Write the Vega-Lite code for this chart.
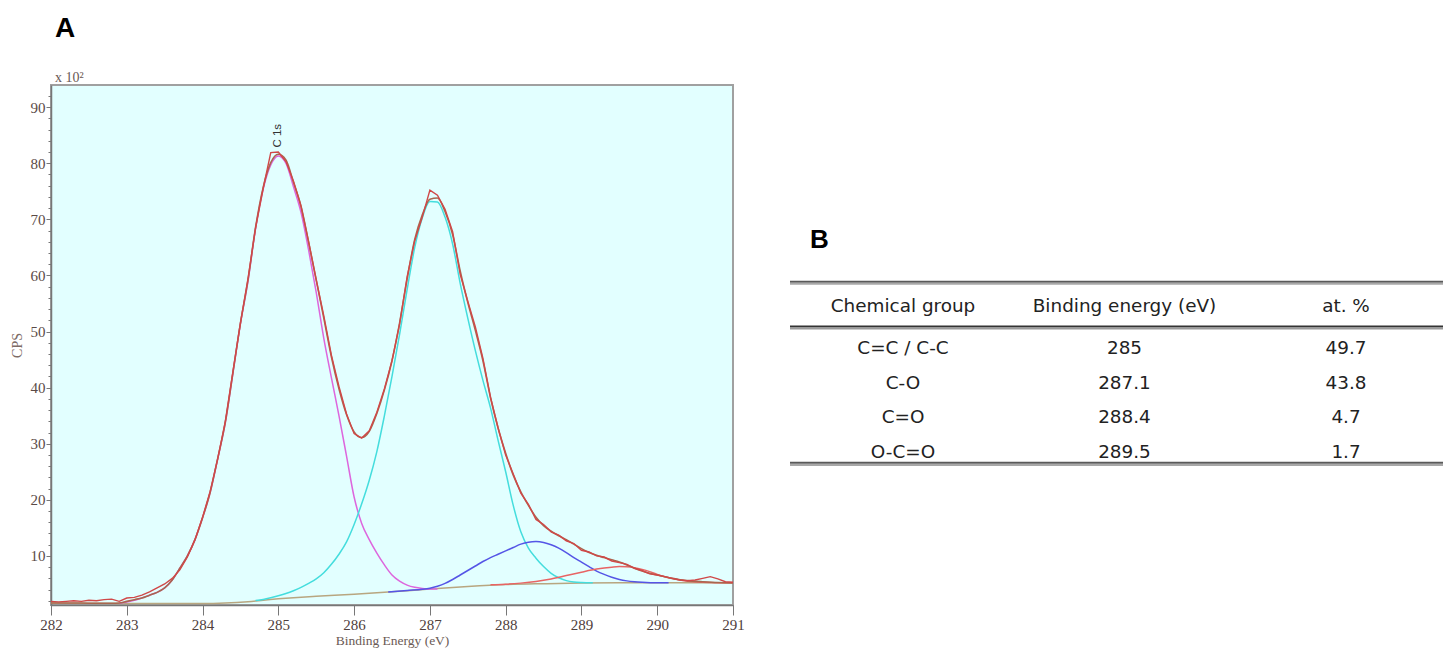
{
  "$schema": "https://vega.github.io/schema/vega-lite/v6.json",
  "padding": {"left": 9, "top": 14, "right": 0, "bottom": 0},
  "background": "white",
  "spacing": 57,
  "bounds": "flush",
  "datasets": {
    "spec": [
      {"s":"raw","E":282.0,"v":1.9},{"s":"raw","E":282.1,"v":1.8},{"s":"raw","E":282.2,"v":1.9},{"s":"raw","E":282.3,"v":2.0},{"s":"raw","E":282.4,"v":1.9},{"s":"raw","E":282.5,"v":2.1},{"s":"raw","E":282.6,"v":2.0},{"s":"raw","E":282.7,"v":2.2},{"s":"raw","E":282.8,"v":2.3},{"s":"raw","E":282.9,"v":1.9},
      {"s":"raw","E":283.0,"v":2.5},{"s":"raw","E":283.1,"v":2.6},{"s":"raw","E":283.2,"v":3.0},{"s":"raw","E":283.3,"v":3.6},{"s":"raw","E":283.4,"v":4.3},{"s":"raw","E":283.5,"v":5.0},{"s":"raw","E":283.6,"v":6.0},{"s":"raw","E":283.7,"v":7.5},{"s":"raw","E":283.8,"v":9.8},{"s":"raw","E":283.9,"v":12.9},
      {"s":"raw","E":284.0,"v":16.9},{"s":"raw","E":284.1,"v":21.5},{"s":"raw","E":284.2,"v":27.3},{"s":"raw","E":284.3,"v":34.0},{"s":"raw","E":284.4,"v":42.8},{"s":"raw","E":284.5,"v":51.5},{"s":"raw","E":284.6,"v":59.5},{"s":"raw","E":284.7,"v":68.5},{"s":"raw","E":284.8,"v":75.5},{"s":"raw","E":284.9,"v":81.9},
      {"s":"raw","E":285.0,"v":82.0},{"s":"raw","E":285.1,"v":80.3},{"s":"raw","E":285.2,"v":76.8},{"s":"raw","E":285.3,"v":72.3},{"s":"raw","E":285.4,"v":66.0},{"s":"raw","E":285.5,"v":59.2},{"s":"raw","E":285.6,"v":52.8},{"s":"raw","E":285.7,"v":45.8},{"s":"raw","E":285.8,"v":40.2},{"s":"raw","E":285.9,"v":35.3},
      {"s":"raw","E":286.0,"v":31.8},{"s":"raw","E":286.1,"v":31.0},{"s":"raw","E":286.2,"v":32.3},{"s":"raw","E":286.3,"v":35.6},{"s":"raw","E":286.4,"v":39.8},{"s":"raw","E":286.5,"v":44.8},{"s":"raw","E":286.6,"v":51.3},{"s":"raw","E":286.7,"v":59.8},{"s":"raw","E":286.8,"v":66.2},{"s":"raw","E":286.9,"v":70.4},
      {"s":"raw","E":287.0,"v":75.2},{"s":"raw","E":287.1,"v":74.3},{"s":"raw","E":287.2,"v":71.8},{"s":"raw","E":287.3,"v":67.8},{"s":"raw","E":287.4,"v":60.2},{"s":"raw","E":287.5,"v":55.4},{"s":"raw","E":287.6,"v":50.8},{"s":"raw","E":287.7,"v":45.2},{"s":"raw","E":287.8,"v":38.3},{"s":"raw","E":287.9,"v":32.8},
      {"s":"raw","E":288.0,"v":28.0},{"s":"raw","E":288.1,"v":24.6},{"s":"raw","E":288.2,"v":21.2},{"s":"raw","E":288.3,"v":19.2},{"s":"raw","E":288.4,"v":16.5},{"s":"raw","E":288.5,"v":15.6},{"s":"raw","E":288.6,"v":14.3},{"s":"raw","E":288.7,"v":13.7},{"s":"raw","E":288.8,"v":12.7},{"s":"raw","E":288.9,"v":12.2},
      {"s":"raw","E":289.0,"v":11.0},{"s":"raw","E":289.1,"v":10.7},{"s":"raw","E":289.2,"v":10.0},{"s":"raw","E":289.3,"v":9.8},{"s":"raw","E":289.4,"v":9.1},{"s":"raw","E":289.5,"v":8.8},{"s":"raw","E":289.6,"v":8.5},{"s":"raw","E":289.7,"v":7.8},{"s":"raw","E":289.8,"v":7.4},{"s":"raw","E":289.9,"v":6.8},
      {"s":"raw","E":290.0,"v":6.6},{"s":"raw","E":290.1,"v":6.3},{"s":"raw","E":290.2,"v":6.0},{"s":"raw","E":290.3,"v":5.7},{"s":"raw","E":290.4,"v":5.6},{"s":"raw","E":290.5,"v":5.7},{"s":"raw","E":290.6,"v":6.0},{"s":"raw","E":290.7,"v":6.3},{"s":"raw","E":290.8,"v":5.9},{"s":"raw","E":290.9,"v":5.4},{"s":"raw","E":291.0,"v":5.3},

      {"s":"env","E":282.0,"v":1.6},{"s":"env","E":282.2,"v":1.6},{"s":"env","E":282.4,"v":1.6},{"s":"env","E":282.6,"v":1.55},{"s":"env","E":282.8,"v":1.55},{"s":"env","E":282.9,"v":1.6},
      {"s":"env","E":283.0,"v":1.9},{"s":"env","E":283.1,"v":2.2},{"s":"env","E":283.2,"v":2.5},{"s":"env","E":283.3,"v":3.0},{"s":"env","E":283.4,"v":3.5},{"s":"env","E":283.5,"v":4.3},{"s":"env","E":283.6,"v":5.7},{"s":"env","E":283.7,"v":7.8},{"s":"env","E":283.8,"v":10.0},{"s":"env","E":283.9,"v":12.9},
      {"s":"env","E":284.0,"v":16.8},{"s":"env","E":284.1,"v":21.3},{"s":"env","E":284.2,"v":27.4},{"s":"env","E":284.3,"v":33.8},{"s":"env","E":284.4,"v":42.6},{"s":"env","E":284.5,"v":51.5},{"s":"env","E":284.6,"v":59.2},{"s":"env","E":284.7,"v":68.6},{"s":"env","E":284.8,"v":75.7},{"s":"env","E":284.9,"v":80.1},
      {"s":"env","E":285.0,"v":81.6},{"s":"env","E":285.1,"v":80.6},{"s":"env","E":285.2,"v":76.6},{"s":"env","E":285.3,"v":72.3},{"s":"env","E":285.4,"v":65.9},{"s":"env","E":285.5,"v":59.2},{"s":"env","E":285.6,"v":52.4},{"s":"env","E":285.7,"v":45.5},{"s":"env","E":285.8,"v":39.8},{"s":"env","E":285.9,"v":35.2},
      {"s":"env","E":286.0,"v":32.1},{"s":"env","E":286.1,"v":31.1},{"s":"env","E":286.2,"v":32.2},{"s":"env","E":286.3,"v":35.4},{"s":"env","E":286.4,"v":39.6},{"s":"env","E":286.5,"v":44.8},{"s":"env","E":286.6,"v":51.5},{"s":"env","E":286.7,"v":59.4},{"s":"env","E":286.8,"v":66.4},{"s":"env","E":286.9,"v":70.8},
      {"s":"env","E":287.0,"v":73.6},{"s":"env","E":287.1,"v":73.8},{"s":"env","E":287.2,"v":71.4},{"s":"env","E":287.3,"v":67.3},{"s":"env","E":287.4,"v":60.8},{"s":"env","E":287.5,"v":55.2},{"s":"env","E":287.6,"v":50.2},{"s":"env","E":287.7,"v":44.8},{"s":"env","E":287.8,"v":38.2},{"s":"env","E":287.9,"v":32.8},
      {"s":"env","E":288.0,"v":28.3},{"s":"env","E":288.1,"v":24.4},{"s":"env","E":288.2,"v":21.4},{"s":"env","E":288.3,"v":19.0},{"s":"env","E":288.4,"v":16.9},{"s":"env","E":288.5,"v":15.4},{"s":"env","E":288.6,"v":14.4},{"s":"env","E":288.7,"v":13.6},{"s":"env","E":288.8,"v":12.9},{"s":"env","E":288.9,"v":12.1},
      {"s":"env","E":289.0,"v":11.3},{"s":"env","E":289.1,"v":10.6},{"s":"env","E":289.2,"v":10.1},{"s":"env","E":289.3,"v":9.7},{"s":"env","E":289.4,"v":9.3},{"s":"env","E":289.5,"v":8.9},{"s":"env","E":289.6,"v":8.4},{"s":"env","E":289.7,"v":7.8},{"s":"env","E":289.8,"v":7.3},{"s":"env","E":289.9,"v":6.9},
      {"s":"env","E":290.0,"v":6.6},{"s":"env","E":290.1,"v":6.3},{"s":"env","E":290.2,"v":6.0},{"s":"env","E":290.3,"v":5.75},{"s":"env","E":290.4,"v":5.6},{"s":"env","E":290.6,"v":5.4},{"s":"env","E":290.8,"v":5.25},{"s":"env","E":291.0,"v":5.2},

      {"s":"bg","E":282.0,"v":1.6},{"s":"bg","E":282.5,"v":1.55},{"s":"bg","E":283.0,"v":1.5},{"s":"bg","E":283.5,"v":1.5},{"s":"bg","E":284.0,"v":1.5},{"s":"bg","E":284.3,"v":1.6},{"s":"bg","E":284.6,"v":1.85},{"s":"bg","E":284.8,"v":2.1},{"s":"bg","E":285.0,"v":2.35},{"s":"bg","E":285.2,"v":2.55},{"s":"bg","E":285.5,"v":2.8},{"s":"bg","E":286.0,"v":3.15},{"s":"bg","E":286.5,"v":3.6},{"s":"bg","E":287.0,"v":4.1},{"s":"bg","E":287.5,"v":4.55},{"s":"bg","E":288.0,"v":4.9},{"s":"bg","E":288.5,"v":5.05},{"s":"bg","E":289.0,"v":5.15},{"s":"bg","E":289.5,"v":5.2},{"s":"bg","E":290.0,"v":5.2},{"s":"bg","E":291.0,"v":5.2},

      {"s":"cc","E":282.9,"v":1.55},{"s":"cc","E":283.0,"v":1.8},{"s":"cc","E":283.1,"v":2.1},{"s":"cc","E":283.2,"v":2.5},{"s":"cc","E":283.3,"v":3.0},{"s":"cc","E":283.4,"v":3.5},{"s":"cc","E":283.5,"v":4.3},{"s":"cc","E":283.6,"v":5.7},{"s":"cc","E":283.7,"v":7.8},{"s":"cc","E":283.8,"v":10.0},{"s":"cc","E":283.9,"v":12.9},
      {"s":"cc","E":284.0,"v":16.8},{"s":"cc","E":284.1,"v":21.3},{"s":"cc","E":284.2,"v":27.3},{"s":"cc","E":284.3,"v":33.7},{"s":"cc","E":284.4,"v":42.5},{"s":"cc","E":284.5,"v":51.4},{"s":"cc","E":284.6,"v":59.0},{"s":"cc","E":284.7,"v":68.4},{"s":"cc","E":284.8,"v":75.4},{"s":"cc","E":284.9,"v":79.7},
      {"s":"cc","E":285.0,"v":81.3},{"s":"cc","E":285.1,"v":80.0},{"s":"cc","E":285.2,"v":75.8},{"s":"cc","E":285.3,"v":71.2},{"s":"cc","E":285.4,"v":64.5},{"s":"cc","E":285.5,"v":57.0},{"s":"cc","E":285.6,"v":48.8},{"s":"cc","E":285.7,"v":41.8},{"s":"cc","E":285.8,"v":35.0},{"s":"cc","E":285.9,"v":27.8},
      {"s":"cc","E":286.0,"v":20.5},{"s":"cc","E":286.1,"v":15.8},{"s":"cc","E":286.2,"v":12.9},{"s":"cc","E":286.3,"v":10.5},{"s":"cc","E":286.4,"v":8.4},{"s":"cc","E":286.5,"v":6.6},{"s":"cc","E":286.6,"v":5.5},{"s":"cc","E":286.7,"v":4.8},{"s":"cc","E":286.8,"v":4.4},{"s":"cc","E":286.9,"v":4.2},{"s":"cc","E":287.0,"v":4.1},{"s":"cc","E":287.1,"v":4.1},

      {"s":"co","E":284.7,"v":2.05},{"s":"co","E":284.8,"v":2.25},{"s":"co","E":284.9,"v":2.55},{"s":"co","E":285.0,"v":2.9},{"s":"co","E":285.1,"v":3.3},{"s":"co","E":285.2,"v":3.8},{"s":"co","E":285.3,"v":4.4},{"s":"co","E":285.4,"v":5.1},{"s":"co","E":285.5,"v":5.9},{"s":"co","E":285.6,"v":7.0},{"s":"co","E":285.7,"v":8.5},{"s":"co","E":285.8,"v":10.3},{"s":"co","E":285.9,"v":12.5},
      {"s":"co","E":286.0,"v":15.6},{"s":"co","E":286.1,"v":19.3},{"s":"co","E":286.2,"v":23.5},{"s":"co","E":286.3,"v":28.6},{"s":"co","E":286.4,"v":35.0},{"s":"co","E":286.5,"v":42.0},{"s":"co","E":286.6,"v":49.5},{"s":"co","E":286.7,"v":57.5},{"s":"co","E":286.8,"v":65.0},{"s":"co","E":286.9,"v":70.3},
      {"s":"co","E":287.0,"v":73.2},{"s":"co","E":287.1,"v":73.1},{"s":"co","E":287.2,"v":70.4},{"s":"co","E":287.3,"v":65.6},{"s":"co","E":287.4,"v":58.6},{"s":"co","E":287.5,"v":52.4},{"s":"co","E":287.6,"v":46.6},{"s":"co","E":287.7,"v":41.3},{"s":"co","E":287.8,"v":36.4},{"s":"co","E":287.9,"v":30.6},
      {"s":"co","E":288.0,"v":25.0},{"s":"co","E":288.1,"v":19.0},{"s":"co","E":288.2,"v":14.3},{"s":"co","E":288.3,"v":11.4},{"s":"co","E":288.4,"v":9.6},{"s":"co","E":288.5,"v":8.1},{"s":"co","E":288.6,"v":6.9},{"s":"co","E":288.7,"v":6.1},{"s":"co","E":288.8,"v":5.6},{"s":"co","E":288.9,"v":5.35},{"s":"co","E":289.0,"v":5.25},{"s":"co","E":289.15,"v":5.2},

      {"s":"c_o","E":286.45,"v":3.55},{"s":"c_o","E":286.7,"v":3.85},{"s":"c_o","E":286.9,"v":4.05},{"s":"c_o","E":287.0,"v":4.25},{"s":"c_o","E":287.1,"v":4.6},{"s":"c_o","E":287.2,"v":5.1},{"s":"c_o","E":287.3,"v":5.8},{"s":"c_o","E":287.4,"v":6.6},{"s":"c_o","E":287.5,"v":7.4},{"s":"c_o","E":287.6,"v":8.2},{"s":"c_o","E":287.7,"v":9.0},{"s":"c_o","E":287.8,"v":9.7},{"s":"c_o","E":287.9,"v":10.3},
      {"s":"c_o","E":288.0,"v":10.9},{"s":"c_o","E":288.1,"v":11.5},{"s":"c_o","E":288.2,"v":12.1},{"s":"c_o","E":288.3,"v":12.45},{"s":"c_o","E":288.4,"v":12.55},{"s":"c_o","E":288.5,"v":12.4},{"s":"c_o","E":288.6,"v":12.0},{"s":"c_o","E":288.7,"v":11.4},{"s":"c_o","E":288.8,"v":10.6},{"s":"c_o","E":288.9,"v":9.7},
      {"s":"c_o","E":289.0,"v":8.9},{"s":"c_o","E":289.1,"v":8.1},{"s":"c_o","E":289.2,"v":7.3},{"s":"c_o","E":289.3,"v":6.7},{"s":"c_o","E":289.4,"v":6.2},{"s":"c_o","E":289.5,"v":5.8},{"s":"c_o","E":289.6,"v":5.55},{"s":"c_o","E":289.7,"v":5.4},{"s":"c_o","E":289.8,"v":5.3},{"s":"c_o","E":290.0,"v":5.2},{"s":"c_o","E":290.15,"v":5.2},

      {"s":"occo","E":287.8,"v":4.85},{"s":"occo","E":288.0,"v":4.95},{"s":"occo","E":288.2,"v":5.15},{"s":"occo","E":288.4,"v":5.45},{"s":"occo","E":288.6,"v":5.9},{"s":"occo","E":288.8,"v":6.5},{"s":"occo","E":289.0,"v":7.1},{"s":"occo","E":289.2,"v":7.65},{"s":"occo","E":289.4,"v":8.0},{"s":"occo","E":289.5,"v":8.1},{"s":"occo","E":289.6,"v":8.05},{"s":"occo","E":289.7,"v":7.9},{"s":"occo","E":289.8,"v":7.6},{"s":"occo","E":289.9,"v":7.2},
      {"s":"occo","E":290.0,"v":6.7},{"s":"occo","E":290.1,"v":6.3},{"s":"occo","E":290.2,"v":5.95},{"s":"occo","E":290.3,"v":5.7},{"s":"occo","E":290.4,"v":5.5},{"s":"occo","E":290.6,"v":5.3},{"s":"occo","E":290.8,"v":5.22},{"s":"occo","E":291.0,"v":5.2}
    ],
    "table": [
      {"row": 1, "group": "C=C / C-C", "energy": "285", "at": "49.7"},
      {"row": 2, "group": "C-O", "energy": "287.1", "at": "43.8"},
      {"row": 3, "group": "C=O", "energy": "288.4", "at": "4.7"},
      {"row": 4, "group": "O-C=O", "energy": "289.5", "at": "1.7"}
    ],
    "header": [
      {"key": "group", "label": "Chemical group"},
      {"key": "energy", "label": "Binding energy (eV)"},
      {"key": "at", "label": "at. %"}
    ]
  },
  "hconcat": [
    {
      "width": 682,
      "height": 520,
      "view": {"fill": "#e2ffff", "stroke": "#a0a0a0", "strokeWidth": 2},
      "title": {"text": "A", "subtitle": "x 10²", "anchor": "start", "frame": "group", "dx": 4, "offset": 0, "font": "Liberation Sans", "fontSize": 28, "fontWeight": "bold", "color": "#000000", "subtitleFont": "Liberation Serif", "subtitleFontSize": 14, "subtitleColor": "#6a5a55", "subtitlePadding": 28},
      "data": {"name": "spec"},
      "encoding": {
        "x": {"field": "E", "type": "quantitative",
          "scale": {"domain": [282, 291], "nice": false, "zero": false},
          "axis": {"title": "Binding Energy (eV)",
            "tickCount": 45,
            "format": "d",
            "labelExpr": "abs(datum.value - round(datum.value)) < 0.001 ? datum.label : ''",
            "tickSize": {"condition": {"test": "abs(datum.value - round(datum.value)) < 0.001", "value": 10}, "value": 5},
            "labelOverlap": false, "labelFlush": false, "grid": false,
            "domainColor": "#777777", "domainWidth": 1.5, "tickColor": "#777777", "tickWidth": 1,
            "labelFont": "Liberation Serif", "labelFontSize": 15, "labelColor": "#4f403c", "labelPadding": 2,
            "titleFont": "Liberation Serif", "titleFontSize": 13.5, "titleFontWeight": "normal", "titleColor": "#6b5a55", "titlePadding": 1}},
        "y": {"field": "v", "type": "quantitative",
          "scale": {"domain": [1.25, 93.95], "nice": false, "zero": false},
          "axis": {"title": "CPS",
            "tickCount": 46,
            "format": "d",
            "labelExpr": "datum.value % 10 === 0 ? datum.label : ''",
            "tickSize": {"condition": {"test": "datum.value % 10 === 0", "value": 5}, "value": 3},
            "labelOverlap": false, "labelFlush": false, "grid": false,
            "domainColor": "#777777", "domainWidth": 1.5, "tickColor": "#777777", "tickWidth": 1,
            "labelFont": "Liberation Serif", "labelFontSize": 15, "labelColor": "#5a4a46", "labelPadding": 1,
            "titleFont": "Liberation Serif", "titleFontSize": 14, "titleFontWeight": "normal", "titleColor": "#7d6b66", "titlePadding": 6}}
      },
      "layer": [
        {"transform": [{"filter": "datum.s === 'bg'"}], "mark": {"type": "line", "color": "#b8a680", "strokeWidth": 1.5, "interpolate": "monotone"}},
        {"transform": [{"filter": "indexof(['cc','co','c_o','occo'], datum.s) >= 0"}],
         "mark": {"type": "line", "strokeWidth": 1.5, "interpolate": "monotone"},
         "encoding": {"color": {"field": "s", "type": "nominal", "scale": {"domain": ["cc","co","c_o","occo"], "range": ["#dd66dd","#44dddd","#5555e6","#e86464"]}, "legend": null}}},
        {"transform": [{"filter": "datum.s === 'env'"}], "mark": {"type": "line", "color": "#a8674f", "strokeWidth": 1.6, "interpolate": "monotone"}},
        {"transform": [{"filter": "datum.s === 'raw'"}], "mark": {"type": "line", "color": "#d04848", "strokeWidth": 1.4}},
        {"data": {"values": [{"E": 284.99, "v": 84.9, "label": "C 1s"}]},
         "mark": {"type": "text", "angle": 270, "align": "center", "baseline": "middle", "font": "Liberation Sans", "fontSize": 11.5, "color": "#333333"},
         "encoding": {"text": {"field": "label"}}}
      ]
    },
    {
      "width": 653,
      "height": 520,
      "view": {"stroke": null},
      "title": {"text": "B", "anchor": "start", "frame": "group", "dx": 20, "dy": 168, "offset": 0, "font": "Liberation Sans", "fontSize": 26, "fontWeight": "bold", "color": "#000000"},
      "layer": [
        {"data": {"values": [{}]}, "mark": {"type": "rule", "color": "#5a5a5a", "strokeWidth": 2},
         "encoding": {"y": {"datum": -0.93, "type": "quantitative", "scale": {"domain": [-6.632, 8.441], "nice": false, "zero": false, "reverse": true}, "axis": null}}},
        {"data": {"values": [{}]}, "mark": {"type": "rule", "color": "#a8a8a8", "strokeWidth": 2},
         "encoding": {"y": {"datum": -0.87, "type": "quantitative"}}},
        {"data": {"values": [{}]}, "mark": {"type": "rule", "color": "#333333", "strokeWidth": 2},
         "encoding": {"y": {"datum": 0.37, "type": "quantitative"}}},
        {"data": {"values": [{}]}, "mark": {"type": "rule", "color": "#9a9a9a", "strokeWidth": 1.5},
         "encoding": {"y": {"datum": 0.43, "type": "quantitative"}}},
        {"data": {"values": [{}]}, "mark": {"type": "rule", "color": "#5a5a5a", "strokeWidth": 2},
         "encoding": {"y": {"datum": 4.32, "type": "quantitative"}}},
        {"data": {"values": [{}]}, "mark": {"type": "rule", "color": "#a8a8a8", "strokeWidth": 2},
         "encoding": {"y": {"datum": 4.385, "type": "quantitative"}}},
        {"data": {"name": "header"},
         "mark": {"type": "text", "font": "DejaVu Sans", "fontSize": 18.4, "color": "#222222", "align": "center", "baseline": "middle"},
         "encoding": {
           "x": {"field": "key", "type": "nominal", "scale": {"type": "point", "domain": ["group","energy","at"], "range": [113, 556], "padding": 0}, "axis": null},
           "y": {"datum": -0.23, "type": "quantitative"},
           "text": {"field": "label"}}},
        {"data": {"name": "table"},
         "transform": [{"fold": ["group","energy","at"], "as": ["key","val"]}],
         "mark": {"type": "text", "font": "DejaVu Sans", "fontSize": 18.4, "color": "#222222", "align": "center", "baseline": "middle"},
         "encoding": {
           "x": {"field": "key", "type": "nominal"},
           "y": {"field": "row", "type": "quantitative"},
           "text": {"field": "val"}}}
      ]
    }
  ]
}
